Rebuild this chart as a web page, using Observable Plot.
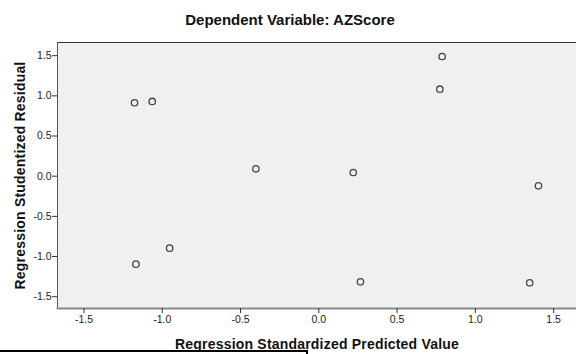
<!DOCTYPE html>
<html>
<head>
<meta charset="utf-8">
<script src="https://cdn.jsdelivr.net/npm/d3@7"></script>
<script src="https://cdn.jsdelivr.net/npm/@observablehq/plot@0.6"></script>
<style>
  html, body { margin: 0; padding: 0; background: #fff; }
  #wrap { position: relative; width: 576px; height: 354px; overflow: hidden; font-family: Arial, "Liberation Sans", sans-serif; }
  #title { position: absolute; left: 0; width: 580px; top: 11px; text-align: center; font: bold 15px Arial, "Liberation Sans", sans-serif; color: #111; }
  #chart { position: absolute; left: 0; top: 0; }
  #edge { position: absolute; left: 0; top: 349.5px; width: 306px; height: 20px; border-top: 2px solid #000; border-right: 2px solid #000; }
  svg g[aria-label="x-axis label"] text, svg g[aria-label="y-axis label"] text { font-weight: bold; font-size: 14px; letter-spacing: 0.2px; fill: #111; }
</style>
</head>
<body>
<div id="wrap">
  <div id="chart"></div>
  <div id="title">Dependent Variable: AZScore</div>
  <div id="edge"></div>
</div>
<script>
// Standardized predicted values (x) and studentized residuals (y)
const predicted = [-1.177, -1.064, -0.402, -0.953, -1.168, 0.788, 0.773, 0.220, 1.403, 0.266, 1.347];
const residual  = [0.914, 0.930, 0.092, -0.896, -1.095, 1.490, 1.083, 0.046, -0.120, -1.315, -1.327];
const tickValues = [-1.5, -1.0, -0.5, 0.0, 0.5, 1.0, 1.5];
const xTitle = "Regression Standardized Predicted Value";
const yTitle = "Regression Studentized Residual";

const data = predicted.map((p, i) => ({x: p, y: residual[i]}));
const fmt = d => d.toFixed(1);

const chart = Plot.plot({
  width: 576,
  height: 354,
  marginTop: 42,
  marginLeft: 57,
  marginRight: 0,
  marginBottom: 46,
  style: {fontFamily: "Arial, 'Liberation Sans', sans-serif", fontSize: "10.5px", color: "#222", background: "transparent"},
  x: {domain: [-1.669, 1.646]},
  y: {domain: [-1.647, 1.664]},
  marks: [
    Plot.frame({fill: "#f0f0f0", stroke: null}),
    Plot.frame({anchor: "top", stroke: "#333"}),
    Plot.frame({anchor: "left", stroke: "#555"}),
    Plot.frame({anchor: "bottom", stroke: "#888", strokeWidth: 2}),
    Plot.axisX({ticks: tickValues, tickFormat: fmt, tickSize: 5, tickPadding: 2, stroke: "#333",
      label: xTitle, labelAnchor: "center", labelArrow: "none", labelOffset: 40}),
    Plot.axisY({ticks: tickValues, tickFormat: fmt, tickSize: 5, tickPadding: 1, stroke: "#333",
      label: yTitle, labelAnchor: "center", labelArrow: "none", labelOffset: 42}),
    Plot.dot(data, {x: "x", y: "y", r: 3.2, stroke: "#444", strokeWidth: 1.3, fill: "none"})
  ]
});
document.getElementById("chart").appendChild(chart);
</script>
</body>
</html>
